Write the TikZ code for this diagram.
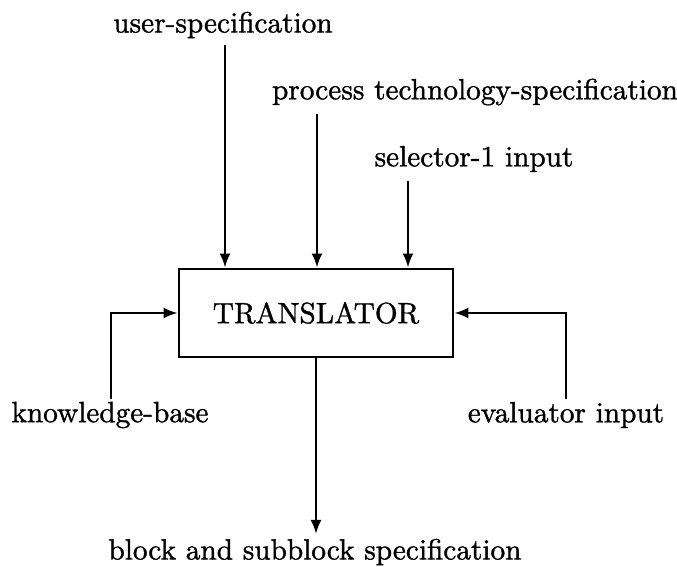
\documentclass[tikz,border=0pt]{standalone}
\usepackage{graphicx}
\usepackage{fontspec}
\newfontfamily\heavyroman[FakeBold=1.2]{Latin Modern Roman}
\usetikzlibrary{arrows.meta}
\newcommand{\bigtext}[1]{\scalebox{2.93}{\heavyroman\fontsize{10}{12}\selectfont #1}}
\begin{document}
\begin{tikzpicture}[x=1pt,y=1pt,
  lbl/.style={inner sep=0pt},
  flow/.style={line width=2.4pt, -{Latex[length=14pt,width=11pt]}},
  block/.style={draw, line width=2.8pt, minimum width=274pt, minimum height=88pt,
                inner sep=0pt}]
\useasboundingbox (0,0) rectangle (677,567);

% central block
\node[block] (tr) at (316,254) {\bigtext{TRANSLATOR}};

% labels
\node[lbl] (us) at (223,542) {\bigtext{user-specification}};
\node[lbl] (pt) at (475,475) {\bigtext{process technology-specification}};
\node[lbl] (sl) at (474,408) {\bigtext{selector-1 input}};
\node[lbl] (kb) at (110,152) {\bigtext{knowledge-base}};
\node[lbl] (ev) at (566,152) {\bigtext{evaluator input}};
\node[lbl] (bs) at (315,15) {\bigtext{block and subblock specification}};

% free ends of the connectors
\coordinate (usE) at (225,522);
\coordinate (ptE) at (317,453);
\coordinate (slE) at (408,386);
\coordinate (kbE) at (111,168);
\coordinate (evE) at (566,168);
\coordinate (bsE) at (316,33);

% inputs from above
\draw[flow] (usE) -- (usE |- tr.north);
\draw[flow] (ptE) -- (ptE |- tr.north);
\draw[flow] (slE) -- (slE |- tr.north);

% side inputs
\draw[flow] (kbE) |- (tr.west);
\draw[flow] (evE) |- (tr.east);

% output
\draw[flow] (tr.south) -- (bsE);
\end{tikzpicture}
\end{document}
